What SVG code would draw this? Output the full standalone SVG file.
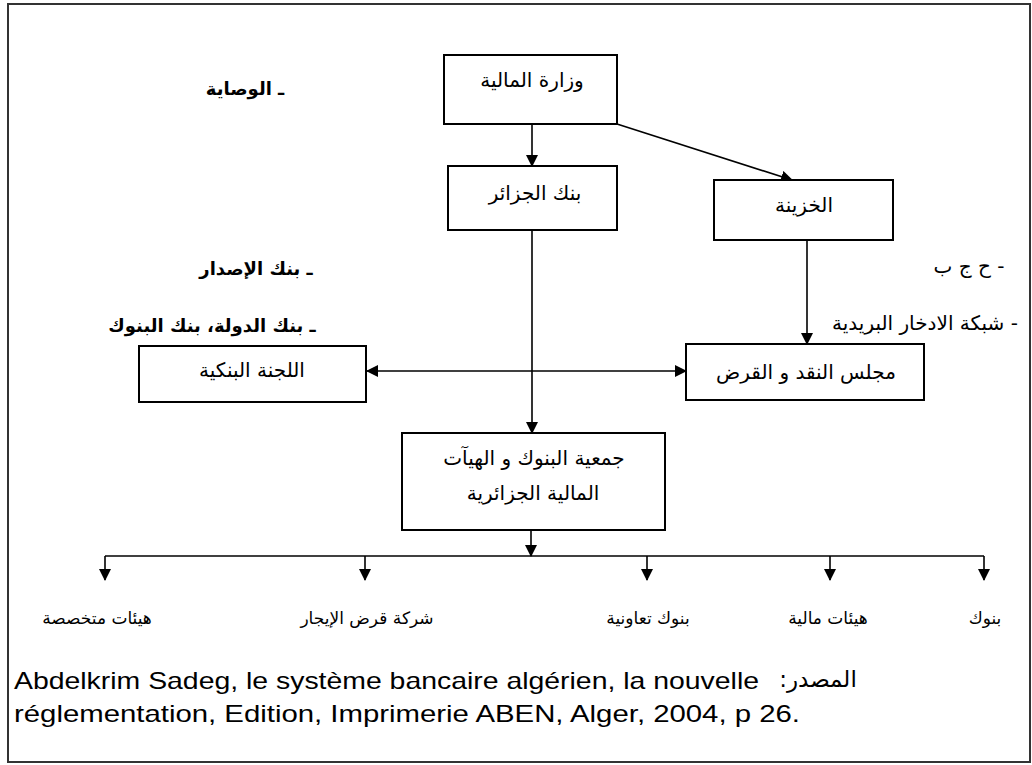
<svg xmlns="http://www.w3.org/2000/svg" width="1032" height="765" viewBox="0 0 1032 765">
<defs>
<marker id="ah" markerWidth="12" markerHeight="12" refX="11" refY="6" orient="auto" markerUnits="userSpaceOnUse">
<path d="M0,0 L12,6 L0,12 Z" fill="#000"/>
</marker>
<marker id="ahs" markerWidth="12" markerHeight="12" refX="1" refY="6" orient="auto" markerUnits="userSpaceOnUse">
<path d="M12,0 L0,6 L12,12 Z" fill="#000"/>
</marker>
<style>
.box{fill:#fff;stroke:#000;stroke-width:2}
.ar{font-family:"DejaVu Sans",sans-serif;font-size:20px;fill:#000;text-anchor:middle}
.lf{font-family:"DejaVu Sans",sans-serif;font-size:17px;fill:#000;text-anchor:middle}
.arb{font-family:"DejaVu Sans",sans-serif;font-size:18px;font-weight:bold;fill:#000;text-anchor:middle}
.ln{stroke:#000;stroke-width:1.6;fill:none}
.src{font-family:"Liberation Sans",Arial,sans-serif;font-size:24px;fill:#000}
</style>
</defs>
<rect x="8" y="4" width="1022" height="758" fill="#fff" stroke="#333" stroke-width="2"/>

<g id="connectors">
<line class="ln" x1="532" y1="124" x2="532" y2="166" marker-end="url(#ah)"/>
<line class="ln" x1="617" y1="124" x2="792" y2="180" marker-end="url(#ah)"/>
<line class="ln" x1="807" y1="240" x2="807" y2="344" marker-end="url(#ah)"/>
<line class="ln" x1="367" y1="371" x2="686" y2="371" marker-start="url(#ahs)" marker-end="url(#ah)"/>
<line class="ln" x1="532" y1="230" x2="532" y2="433" marker-end="url(#ah)"/>
<line class="ln" x1="531" y1="530" x2="531" y2="556" marker-end="url(#ah)"/>
<line class="ln" x1="105" y1="556" x2="984" y2="556"/>
<line class="ln" x1="105" y1="556" x2="105" y2="580" marker-end="url(#ah)"/>
<line class="ln" x1="365" y1="556" x2="365" y2="580" marker-end="url(#ah)"/>
<line class="ln" x1="647" y1="556" x2="647" y2="580" marker-end="url(#ah)"/>
<line class="ln" x1="830" y1="556" x2="830" y2="580" marker-end="url(#ah)"/>
<line class="ln" x1="984" y1="556" x2="984" y2="580" marker-end="url(#ah)"/>
</g>

<g id="wizara">
<rect class="box" x="444" y="55" width="173" height="69"/>
<text class="ar" x="532" y="87" direction="rtl">وزارة المالية</text>
</g>
<g id="bank-algerie">
<rect class="box" x="448" y="166" width="169" height="64"/>
<text class="ar" x="535" y="200" direction="rtl">بنك الجزائر</text>
</g>
<g id="khazina">
<rect class="box" x="714" y="180" width="179" height="60"/>
<text class="ar" x="804" y="212" direction="rtl">الخزينة</text>
</g>
<g id="majlis">
<rect class="box" x="686" y="344" width="238" height="56"/>
<text class="ar" x="806" y="379" direction="rtl">مجلس النقد و القرض</text>
</g>
<g id="lajna">
<rect class="box" x="139" y="346" width="227" height="56"/>
<text class="ar" x="252" y="377" direction="rtl">اللجنة البنكية</text>
</g>
<g id="jamiya">
<rect class="box" x="402" y="433" width="263" height="97"/>
<text class="ar" x="534" y="465" direction="rtl">جمعية البنوك و الهيآت</text>
<text class="ar" x="533" y="500" direction="rtl">المالية الجزائرية</text>
</g>

<g id="notes">
<text class="arb" x="245" y="95" direction="rtl">ـ الوصاية</text>
<text class="arb" x="256" y="275" direction="rtl">ـ بنك الإصدار</text>
<text class="arb" x="212" y="332" direction="rtl">ـ بنك الدولة، بنك البنوك</text>
<text class="ar" x="969" y="273" direction="rtl">-  ح  ج  ب</text>
<text class="ar" x="925" y="330" direction="rtl">- شبكة الادخار البريدية</text>
</g>

<g id="leaves">
<text class="lf" x="97" y="624" direction="rtl">هيئات متخصصة</text>
<text class="lf" x="367" y="624" direction="rtl">شركة قرض الإيجار</text>
<text class="lf" x="648" y="624" direction="rtl">بنوك تعاونية</text>
<text class="lf" x="828" y="624" direction="rtl">هيئات مالية</text>
<text class="lf" x="985" y="624" direction="rtl">بنوك</text>
</g>

<g id="source">
<text class="src" x="14" y="689" textLength="745" lengthAdjust="spacingAndGlyphs">Abdelkrim Sadeg, le système bancaire algérien, la nouvelle</text>
<text class="ar" x="818" y="687" direction="rtl" style="font-size:23px">المصدر:</text>
<text class="src" x="14" y="722" textLength="786" lengthAdjust="spacingAndGlyphs">réglementation, Edition, Imprimerie ABEN, Alger, 2004, p 26.</text>
</g>
</svg>
